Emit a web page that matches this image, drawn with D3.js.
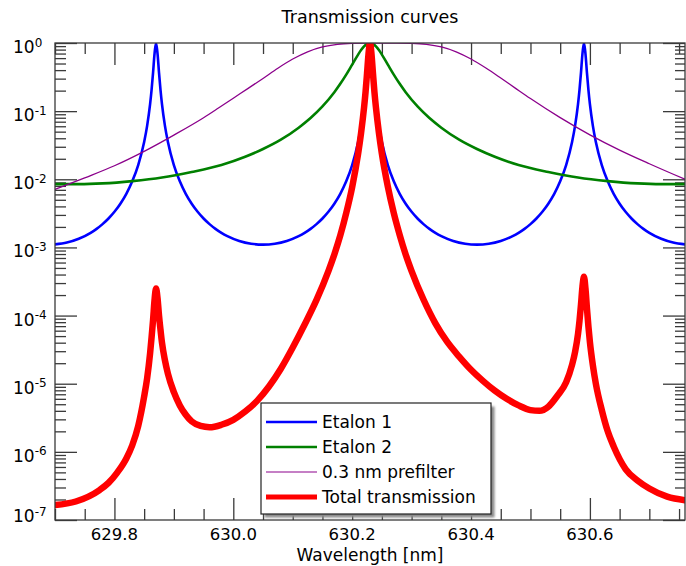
<!DOCTYPE html>
<meta charset="utf-8">
<style>
body { margin: 0; background: #fff; }
svg text { font-family: "DejaVu Sans", sans-serif; fill: #000; }
</style>

<script src="https://d3js.org/d3.v7.min.js"></script>

<div id="my_dataviz"></div>

<script>

// transmission samples as [wavelength in nm, transmission]
var etalon1 = [
    [629.70, 1.108e-3], [629.72, 1.179e-3], [629.74, 1.339e-3], [629.76, 1.639e-3], [629.77, 1.873e-3],
    [629.78, 2.198e-3], [629.79, 2.658e-3], [629.80, 3.337e-3], [629.81, 4.386e-3], [629.82, 6.13e-3],
    [629.83, 9.33e-3], [629.84, 0.01617], [629.85, 0.0352], [629.855, 0.0607], [629.86, 0.1266],
    [629.8625, 0.2047], [629.865, 0.3666], [629.8675, 0.698], [629.87, 1], [629.8725, 0.698],
    [629.875, 0.3666], [629.8775, 0.2047], [629.88, 0.1266], [629.885, 0.0607], [629.89, 0.0352],
    [629.90, 0.01617], [629.91, 9.33e-3], [629.92, 6.13e-3], [629.93, 4.386e-3], [629.94, 3.337e-3],
    [629.95, 2.658e-3], [629.96, 2.198e-3], [629.97, 1.873e-3], [629.98, 1.639e-3], [629.99, 1.466e-3],
    [630.01, 1.246e-3], [630.03, 1.134e-3], [630.05, 1.100e-3], [630.07, 1.134e-3], [630.09, 1.246e-3],
    [630.11, 1.466e-3], [630.12, 1.639e-3], [630.13, 1.873e-3], [630.14, 2.198e-3], [630.15, 2.658e-3],
    [630.16, 3.337e-3], [630.17, 4.386e-3], [630.18, 6.13e-3], [630.19, 9.33e-3], [630.20, 0.01617],
    [630.21, 0.0352], [630.215, 0.0607], [630.22, 0.1266], [630.2225, 0.2047], [630.225, 0.3666],
    [630.2275, 0.698], [630.23, 1], [630.2325, 0.698], [630.235, 0.3666], [630.2375, 0.2047],
    [630.24, 0.1266], [630.245, 0.0607], [630.25, 0.0352], [630.26, 0.01617], [630.27, 9.33e-3],
    [630.28, 6.13e-3], [630.29, 4.386e-3], [630.30, 3.337e-3], [630.31, 2.658e-3], [630.32, 2.198e-3],
    [630.33, 1.873e-3], [630.34, 1.639e-3], [630.35, 1.466e-3], [630.37, 1.246e-3], [630.39, 1.134e-3],
    [630.41, 1.100e-3], [630.43, 1.134e-3], [630.45, 1.246e-3], [630.47, 1.466e-3], [630.48, 1.639e-3],
    [630.49, 1.873e-3], [630.50, 2.198e-3], [630.51, 2.658e-3], [630.52, 3.337e-3], [630.53, 4.386e-3],
    [630.54, 6.13e-3], [630.55, 9.33e-3], [630.56, 0.01617], [630.57, 0.0352], [630.575, 0.0607],
    [630.58, 0.1266], [630.5825, 0.2047], [630.585, 0.3666], [630.5875, 0.698], [630.59, 1],
    [630.5925, 0.698], [630.595, 0.3666], [630.5975, 0.2047], [630.60, 0.1266], [630.605, 0.0607],
    [630.61, 0.0352], [630.62, 0.01617], [630.63, 9.33e-3], [630.64, 6.13e-3], [630.65, 4.386e-3],
    [630.66, 3.337e-3], [630.67, 2.658e-3], [630.68, 2.198e-3], [630.69, 1.873e-3], [630.70, 1.639e-3],
    [630.72, 1.339e-3], [630.74, 1.179e-3], [630.76, 1.108e-3]
];

var etalon2 = [
    [629.70, 8.5e-3], [629.74, 8.5e-3], [629.78, 8.7e-3], [629.83, 9.4e-3], [629.88, 0.0106],
    [629.93, 0.0128], [629.98, 0.0162], [630.02, 0.0214], [630.05, 0.0278], [630.08, 0.0381],
    [630.11, 0.0572], [630.13, 0.0792], [630.15, 0.1172], [630.17, 0.1896], [630.18, 0.2515],
    [630.19, 0.3435], [630.20, 0.4816], [630.21, 0.676], [630.215, 0.7875], [630.22, 0.893],
    [630.225, 0.971], [630.23, 1], [630.235, 0.971], [630.24, 0.893], [630.245, 0.7875],
    [630.25, 0.676], [630.26, 0.4816], [630.27, 0.3435], [630.28, 0.2515], [630.29, 0.1896],
    [630.31, 0.1172], [630.33, 0.0792], [630.35, 0.0572], [630.38, 0.0381], [630.41, 0.0278],
    [630.44, 0.0214], [630.48, 0.0162], [630.53, 0.0128], [630.58, 0.0106], [630.63, 9.4e-3],
    [630.68, 8.7e-3], [630.72, 8.5e-3], [630.76, 8.5e-3]
];

var prefilter = [
    [629.70, 7.1e-3], [629.75, 0.0105], [629.80, 0.0158], [629.85, 0.0257], [629.90, 0.0445],
    [629.95, 0.0800], [629.975, 0.111], [630.00, 0.155], [630.025, 0.216], [630.05, 0.302],
    [630.075, 0.427], [630.10, 0.582], [630.125, 0.743], [630.15, 0.876], [630.175, 0.957],
    [630.20, 0.991], [630.225, 1.0], [630.25, 1.0], [630.275, 1.0], [630.30, 0.991],
    [630.325, 0.957], [630.35, 0.876], [630.375, 0.743], [630.40, 0.582], [630.425, 0.429],
    [630.45, 0.306], [630.475, 0.216], [630.50, 0.153], [630.55, 0.0802], [630.60, 0.0449],
    [630.65, 0.0268], [630.70, 0.0169], [630.76, 0.0100]
];

var total = [
    [629.70, 1.66e-7], [629.735, 1.87e-7], [629.775, 2.75e-7], [629.79, 3.5e-7], [629.805, 5.0e-7],
    [629.82, 8.0e-7], [629.83, 1.25e-6], [629.84, 2.4e-6], [629.85, 6.5e-6], [629.855, 1.2e-5],
    [629.86, 2.8e-5], [629.8625, 4.8e-5], [629.865, 8.6e-5], [629.8675, 1.7e-4], [629.87, 2.5e-4],
    [629.8725, 1.8e-4], [629.875, 1.0e-4], [629.8775, 6.2e-5], [629.88, 4.0e-5], [629.885, 2.2e-5],
    [629.89, 1.4e-5], [629.90, 7.5e-6], [629.91, 4.8e-6], [629.92, 3.5e-6], [629.93, 2.8e-6],
    [629.945, 2.4e-6], [629.96, 2.3e-6], [629.98, 2.5e-6], [630.00, 2.95e-6], [630.02, 3.9e-6],
    [630.04, 5.6e-6], [630.06, 9.1e-6], [630.08, 1.66e-5], [630.10, 3.4e-5], [630.12, 7.4e-5],
    [630.14, 1.7e-4], [630.16, 4.5e-4], [630.17, 7.9e-4], [630.18, 1.5e-3], [630.19, 3.2e-3],
    [630.20, 7.7e-3], [630.21, 0.0237], [630.215, 0.048], [630.22, 0.113], [630.2225, 0.19],
    [630.225, 0.356], [630.2275, 0.69], [630.23, 1.0], [630.2325, 0.69], [630.235, 0.356],
    [630.2375, 0.19], [630.24, 0.113], [630.245, 0.048], [630.25, 0.0237], [630.26, 7.8e-3],
    [630.27, 3.2e-3], [630.28, 1.52e-3], [630.29, 7.9e-4], [630.30, 4.5e-4], [630.32, 1.72e-4],
    [630.34, 7.7e-5], [630.36, 4.1e-5], [630.38, 2.5e-5], [630.40, 1.6e-5], [630.42, 1.1e-5],
    [630.44, 7.9e-6], [630.46, 6.0e-6], [630.48, 4.8e-6], [630.50, 4.1e-6], [630.515, 4.0e-6],
    [630.53, 4.6e-6], [630.545, 6.6e-6], [630.56, 1.05e-5], [630.57, 1.9e-5], [630.575, 2.9e-5],
    [630.58, 5.4e-5], [630.5825, 8.4e-5], [630.585, 1.45e-4], [630.5875, 2.67e-4], [630.59, 3.72e-4],
    [630.5925, 2.51e-4], [630.595, 1.28e-4], [630.5975, 6.9e-5], [630.60, 4.1e-5], [630.605, 1.86e-5],
    [630.61, 1.0e-5], [630.62, 4.1e-6], [630.63, 2.0e-6], [630.64, 1.2e-6], [630.66, 5.6e-7],
    [630.68, 3.8e-7], [630.70, 2.9e-7], [630.73, 2.2e-7], [630.76, 1.95e-7]
];

var seriesNames = ["Etalon 1", "Etalon 2", "0.3 nm prefilter", "Total transmission"];

// axis ticks
var xMajor = [629.8, 630.0, 630.2, 630.4, 630.6];
var xLabels = ["629.8", "630.0", "630.2", "630.4", "630.6"];
var yExponents = [0, -1, -2, -3, -4, -5, -6, -7];

var series = [
    {name: seriesNames[0], data: etalon1, color: "#0000ff", width: 2.6},
    {name: seriesNames[1], data: etalon2, color: "#008000", width: 2.6},
    {name: seriesNames[2], data: prefilter, color: "#8b008b", width: 1.3},
    {name: seriesNames[3], data: total, color: "#ff0000", width: 6.5}
];

var W = 686, H = 566;
var plot = {left: 55, right: 685, top: 43, bottom: 520};

var x = d3.scaleLinear().domain([629.70, 630.76]).range([plot.left, plot.right]);
var y = d3.scaleLog().domain([1e-7, 1]).range([plot.bottom, plot.top]);

var svg = d3.select("#my_dataviz")
    .append("svg")
    .attr("width", W)
    .attr("height", H);

svg.append("defs").append("clipPath")
    .attr("id", "plotclip")
    .append("rect")
    .attr("x", plot.left)
    .attr("y", plot.top)
    .attr("width", plot.right - plot.left)
    .attr("height", plot.bottom - plot.top);

// minor ticks: every 0.05 nm in x, 2..9 per decade in y
var xMinor = d3.range(0, 22).map(function(i) { return +(629.70 + i * 0.05).toFixed(2); })
    .filter(function(v) { return xMajor.indexOf(v) < 0; });
var yMajor = yExponents.map(function(e) { return Math.pow(10, e); });
var yMinor = [];
yExponents.slice(1).forEach(function(e) {
    for (var m = 2; m <= 9; m++) yMinor.push(m * Math.pow(10, e));
});

function styleAxis(g) {
    g.select(".domain").remove();
    g.selectAll("line").attr("stroke", "#3a3a3a").attr("stroke-width", 1.3);
    g.selectAll("text").remove();
}

// ticks pointing inward on all four sides
var axes = [
    [d3.axisBottom(x).tickValues(xMajor).tickSize(-22), "translate(0," + plot.bottom + ")"],
    [d3.axisBottom(x).tickValues(xMinor).tickSize(-11), "translate(0," + plot.bottom + ")"],
    [d3.axisTop(x).tickValues(xMajor).tickSize(-22), "translate(0," + plot.top + ")"],
    [d3.axisTop(x).tickValues(xMinor).tickSize(-11), "translate(0," + plot.top + ")"],
    [d3.axisLeft(y).tickValues(yMajor).tickSize(-22), "translate(" + plot.left + ",0)"],
    [d3.axisLeft(y).tickValues(yMinor).tickSize(-11), "translate(" + plot.left + ",0)"],
    [d3.axisRight(y).tickValues(yMajor).tickSize(-22), "translate(" + plot.right + ",0)"],
    [d3.axisRight(y).tickValues(yMinor).tickSize(-10), "translate(" + plot.right + ",0)"]
];
axes.forEach(function(a) {
    svg.append("g").attr("transform", a[1]).call(a[0]).call(styleAxis);
});

// curves
var line = d3.line()
    .x(function(d) { return x(d[0]); })
    .y(function(d) { return y(d[1]); })
    .curve(d3.curveMonotoneX);

svg.append("g")
    .attr("clip-path", "url(#plotclip)")
    .selectAll("path")
    .data(series)
    .enter().append("path")
    .attr("d", function(d) { return line(d.data); })
    .attr("fill", "none")
    .attr("stroke", function(d) { return d.color; })
    .attr("stroke-width", function(d) { return d.width; })
    .attr("stroke-linejoin", "round")
    .attr("stroke-linecap", "round");

// frame
svg.append("rect")
    .attr("x", plot.left)
    .attr("y", plot.top)
    .attr("width", plot.right - plot.left)
    .attr("height", plot.bottom - plot.top)
    .attr("fill", "none")
    .attr("stroke", "#3a3a3a")
    .attr("stroke-width", 1.3);

// x labels
svg.selectAll(".xlab")
    .data(xMajor)
    .enter().append("text")
    .attr("class", "xlab")
    .attr("x", function(d) { return x(d); })
    .attr("y", 540)
    .attr("text-anchor", "middle")
    .style("font-size", "16.5px")
    .text(function(d, i) { return xLabels[i]; });

// y labels as powers of ten
var ylab = svg.selectAll(".ylab")
    .data(yExponents)
    .enter().append("text")
    .attr("class", "ylab")
    .attr("x", 13)
    .attr("y", function(d, i) { return i === yExponents.length - 1 ? y(Math.pow(10, d)) + 2 : y(Math.pow(10, d)) + 10; })
    .style("font-size", "17px");
ylab.append("tspan").text("10");
ylab.append("tspan")
    .attr("dy", -6.5)
    .style("font-size", "12px")
    .text(function(d) { return d; });

// titles
svg.append("text")
    .attr("x", (plot.left + plot.right) / 2)
    .attr("y", 23)
    .attr("text-anchor", "middle")
    .style("font-size", "17.5px")
    .text("Transmission curves");

svg.append("text")
    .attr("x", (plot.left + plot.right) / 2)
    .attr("y", 561)
    .attr("text-anchor", "middle")
    .style("font-size", "17px")
    .text("Wavelength [nm]");

// legend with drop shadow
var lg = {x: 261, y: 403, w: 230, h: 111};
var blur = svg.select("defs").append("filter").attr("id", "soft");
blur.append("feGaussianBlur").attr("stdDeviation", 1.2);

svg.append("rect")
    .attr("x", lg.x + 3.5)
    .attr("y", lg.y + 3.5)
    .attr("width", lg.w)
    .attr("height", lg.h)
    .attr("fill", "#8a8a8a")
    .attr("filter", "url(#soft)");

svg.append("rect")
    .attr("x", lg.x)
    .attr("y", lg.y)
    .attr("width", lg.w)
    .attr("height", lg.h)
    .attr("fill", "#fff")
    .attr("stroke", "#222")
    .attr("stroke-width", 1.2);

var entry = svg.selectAll(".legend")
    .data(series)
    .enter().append("g")
    .attr("class", "legend")
    .attr("transform", function(d, i) { return "translate(" + lg.x + "," + (lg.y + 19 + i * 25) + ")"; });

entry.append("line")
    .attr("x1", 5)
    .attr("x2", 56)
    .attr("stroke", function(d) { return d.color; })
    .attr("stroke-width", function(d) { return d.width === 6.5 ? 5 : d.width * 0.9; });

entry.append("text")
    .attr("x", 61)
    .attr("y", 6)
    .style("font-size", "17px")
    .text(function(d) { return d.name; });

</script>
